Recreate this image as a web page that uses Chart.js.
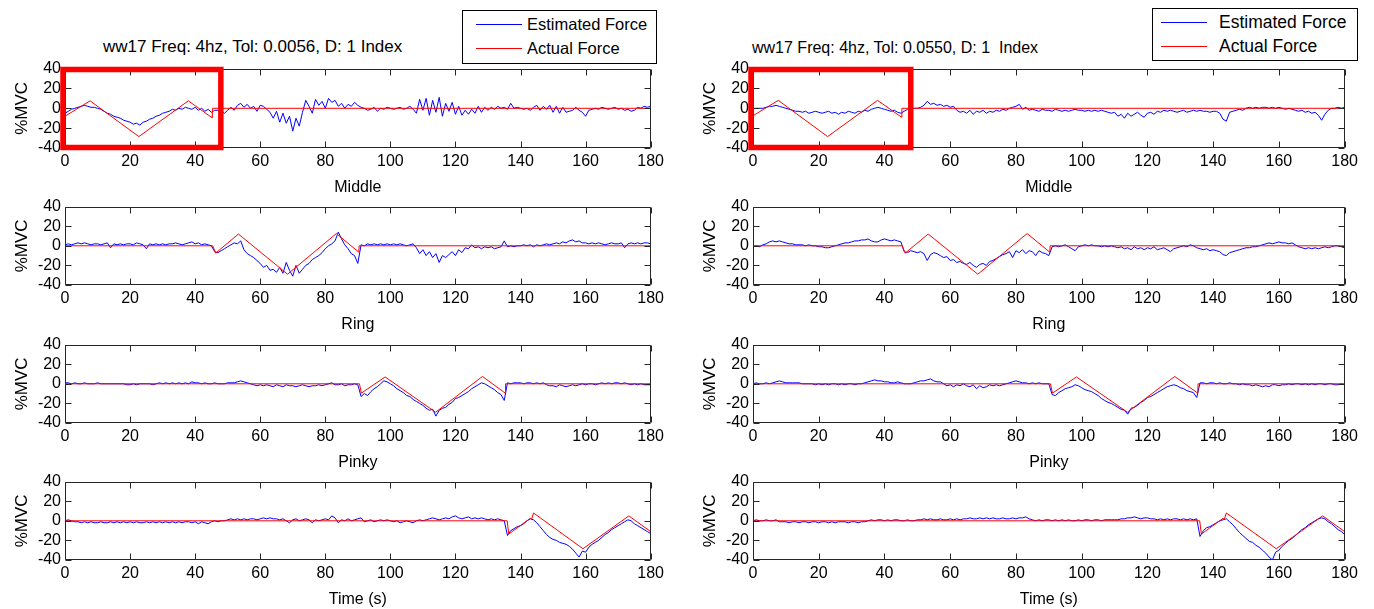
<!DOCTYPE html>
<html>
<head>
<meta charset="utf-8">
<script src="https://cdn.jsdelivr.net/npm/chart.js@4.4.1/dist/chart.umd.min.js"></script>
<style>
  body { margin: 0; background: #fff; }
  #page { position: relative; width: 1374px; height: 609px; background: #fff; overflow: hidden;
          font-family: "Liberation Sans", Arial, Helvetica, sans-serif; color: #000; }
  canvas { position: absolute; }
  .title { position: absolute; white-space: pre; line-height: 20px; }
  .legend { position: absolute; border: 1px solid #000; background: #fff; }
  .legend .row { position: absolute; line-height: 20px; white-space: pre; }
  .legend .swatch { position: absolute; height: 0; border-top: 1px solid; }
</style>
</head>
<body>
<div id="page">
  <div class="title" style="left:103px; top:37px; font-size:17px;">ww17 Freq: 4hz, Tol: 0.0056, D: 1 Index</div>
  <div class="title" style="left:752px; top:38px; font-size:16px;">ww17 Freq: 4hz, Tol: 0.0550, D: 1  Index</div>

  <div class="legend" style="left:462px; top:10px; width:193px; height:52px; font-size:16.5px;">
    <div class="swatch" style="left:13px; top:13px; width:46px; border-color:#0000ff;"></div>
    <div class="row" style="left:64px; top:3px;">Estimated Force</div>
    <div class="swatch" style="left:13px; top:37px; width:46px; border-color:#ff0000;"></div>
    <div class="row" style="left:64px; top:27px;">Actual Force</div>
  </div>
  <div class="legend" style="left:1152px; top:8px; width:204px; height:51px; font-size:17.5px;">
    <div class="swatch" style="left:8px; top:13px; width:46px; border-color:#0000ff;"></div>
    <div class="row" style="left:66px; top:3px;">Estimated Force</div>
    <div class="swatch" style="left:8px; top:37px; width:46px; border-color:#ff0000;"></div>
    <div class="row" style="left:66px; top:27px;">Actual Force</div>
  </div>
</div>

<script>
// ---- tick labels / axis ranges ----
const xTicks = [0, 20, 40, 60, 80, 100, 120, 140, 160, 180];
const yTicks = [-40, -20, 0, 20, 40];
const xLabels = ['Middle', 'Ring', 'Pinky', 'Time (s)'];
const yLabel = '%MVC';

// ---- estimated force, one value per second (0..180 s) ----
// left column (Tol 0.0056)
const estIndexL = [
  -5,-3,-1,0,1,2,3,2,1,1,
  0,-1,-3,-5,-6,-8,-9,-10,-12,-13,
  -14,-16,-15,-17,-14,-13,-11,-10,-8,-7,
  -5,-4,-3,-1,-2,0,-1,1,0,-1,
  1,-2,0,-3,-1,-4,-2,-2,-3,-5,
  -2,1,-2,3,5,1,4,0,2,-3,
  3,2,-1,-4,-10,-3,-14,-5,-15,-8,
  -23,-10,-18,-4,8,2,-5,9,3,7,
  0,10,6,8,2,5,0,4,2,6,
  3,1,0,-2,-1,1,-3,0,-1,1,
  0,-1,0,1,-1,0,2,-1,-5,9,
  -2,10,-7,8,-4,11,-8,5,-3,6,
  -6,2,-7,-2,-6,-1,-5,2,-4,1,
  -2,1,-1,2,0,1,-1,5,0,1,
  0,-1,0,-2,1,3,-2,2,-1,3,
  -4,2,-5,1,-4,-3,-2,1,-2,-4,
  -8,-2,-1,0,-1,1,0,-1,0,1,
  -1,0,-2,-1,-3,-2,1,0,2,1,
  2
];
const estRingL = [
  1,2,1,2,3,2,3,2,1,2,
  2,1,2,3,-2,2,1,2,1,2,
  2,1,3,2,1,-3,2,1,2,1,
  2,1,2,2,3,2,1,2,3,4,
  2,3,1,2,1,0,-6,-7,-5,-3,
  -1,1,3,2,5,-4,-8,-10,-12,-15,
  -18,-22,-20,-25,-24,-27,-22,-28,-17,-25,
  -31,-20,-28,-24,-20,-18,-14,-12,-10,-7,
  -3,0,2,5,14,7,1,-3,-8,-10,
  -18,1,0,2,1,2,1,2,1,2,
  1,2,1,2,1,0,1,2,-2,-8,
  -4,-10,-6,-12,-8,-17,-10,-12,-9,-6,
  -10,-4,-7,-2,-3,1,-2,-1,-3,-1,
  -2,-1,-3,-2,-1,5,-1,0,-1,0,
  0,1,0,1,-1,1,0,1,2,1,
  2,3,2,4,3,5,6,4,5,3,
  3,2,3,2,3,2,1,2,3,2,
  2,3,-2,2,3,2,3,2,3,3,
  2
];
const estPinkyL = [
  1,1,0,1,0,0,1,0,0,0,
  1,0,0,0,0,0,0,0,0,-1,
  -1,0,-1,0,0,0,0,-1,0,1,
  0,1,0,1,0,1,0,1,0,2,
  1,1,0,1,0,0,1,0,0,0,
  1,1,1,2,3,2,1,0,-1,-2,
  -1,-2,-1,-2,-3,-1,-2,-3,-1,-2,
  -2,-3,-2,-1,-2,-3,-2,-2,-1,-2,
  -1,0,1,-1,-1,0,-2,-1,-1,0,
  -1,-13,-10,-12,-8,-5,-3,0,3,2,
  0,-2,-5,-7,-9,-12,-13,-16,-18,-20,
  -22,-25,-27,-26,-33,-27,-25,-24,-21,-19,
  -15,-14,-12,-10,-8,-5,-3,-1,1,0,
  -2,-4,-6,-9,-11,-17,1,0,1,1,
  1,0,1,1,0,1,0,1,-1,-2,
  -2,-3,-1,-2,-3,-2,-1,-2,-1,0,
  -1,0,0,-1,0,1,0,1,0,1,
  1,0,1,0,-1,0,-1,0,-1,-1,
  -1
];
const estTimeL = [
  0,1,0,-1,-1,-2,-1,-2,-1,-2,
  -2,-1,-2,-2,-1,-2,-1,-2,-1,-2,
  -1,-2,-1,-2,-2,-1,-2,-1,-2,-1,
  -2,-1,-2,-1,-2,-1,-2,-1,-1,-2,
  -1,-3,-1,-2,-3,-1,0,-1,0,0,
  1,2,1,2,1,2,1,2,2,1,
  2,3,2,3,2,2,1,2,0,-2,
  1,2,0,1,2,1,-2,1,0,1,
  2,1,5,3,-2,1,0,2,0,1,
  2,3,-1,0,1,-1,0,1,0,1,
  0,-1,0,-2,-1,0,-1,-2,0,1,
  0,1,2,3,2,1,2,3,2,4,
  5,3,2,3,4,2,3,2,3,2,
  1,2,1,2,1,0,-15,-10,-8,-6,
  -5,-3,0,2,1,-2,-6,-10,-14,-17,
  -19,-20,-22,-23,-24,-26,-29,-33,-37,-31,
  -32,-27,-24,-22,-20,-17,-14,-12,-9,-7,
  -5,-3,-1,1,0,-3,-5,-7,-9,-11,
  -13
];
// right column (Tol 0.0550)
const estIndexR = [
  0,0,0,0,1,2,2,3,2,1,
  0,-1,-2,-3,-3,-4,-3,-5,-4,-3,
  -4,-5,-4,-3,-5,-4,-6,-4,-5,-3,
  -4,-5,-3,-4,-2,-3,-1,0,1,0,
  -1,-2,-3,-2,-4,-5,-3,-1,-1,0,
  0,1,3,7,4,5,3,4,2,3,
  1,2,-2,-4,-3,-5,-2,-6,-3,-4,
  -2,-5,-3,-4,-2,-3,-1,-2,0,1,
  2,4,-1,1,-2,-1,-2,-3,-1,-2,
  -2,-3,-1,-2,-3,-2,-3,-2,-1,-2,
  -2,-3,-2,-3,-2,-3,-2,-3,-4,-5,
  -4,-8,-6,-10,-5,-8,-6,-4,-7,-9,
  -5,-4,-6,-3,-4,-2,-3,-2,-3,-4,
  -3,-2,-4,-3,-2,-3,-2,-3,-3,-4,
  -3,-3,-5,-11,-13,-4,-3,-2,-1,-2,
  0,1,0,1,0,1,1,0,1,0,
  1,0,-1,0,-1,-2,-3,-2,-4,-3,
  -5,-4,-7,-12,-6,-2,0,0,1,0,
  1
];
const estRingR = [
  -1,0,-1,1,2,4,5,4,5,4,
  3,2,2,1,1,1,0,1,0,0,
  -1,-1,-2,-2,-1,0,1,2,3,3,
  4,5,5,6,6,7,5,4,4,6,
  7,6,5,6,5,4,-6,-7,-5,-6,
  -7,-6,-8,-15,-9,-7,-8,-10,-12,-11,
  -15,-14,-17,-16,-18,-19,-17,-20,-22,-19,
  -18,-20,-16,-15,-13,-11,-9,-8,-6,-12,
  -5,-7,-4,-8,-5,-6,-10,-5,-7,-8,
  -10,-1,0,-1,0,1,-1,-3,-5,-1,
  0,1,0,1,0,0,-1,0,-1,0,
  -1,-2,-1,-3,-2,-4,-1,-3,-2,-4,
  -2,-3,-1,-4,-3,-2,-4,-6,-3,-2,
  -1,0,-1,1,0,-2,-3,-4,-3,-5,
  -4,-5,-6,-9,-10,-7,-6,-5,-4,-3,
  -2,-2,-1,-1,0,1,2,3,2,3,
  4,3,3,2,3,1,-1,-2,-3,-2,
  -3,-2,-3,-2,-1,-2,-1,0,0,-1,
  -2
];
const estPinkyR = [
  0,1,0,0,1,0,1,2,3,2,
  1,1,1,1,1,0,0,0,0,-1,
  0,-1,0,-1,0,0,-1,0,-1,0,
  0,-1,0,0,1,2,3,4,3,3,
  2,2,1,1,2,1,0,0,0,1,
  2,3,3,4,5,3,2,2,0,-2,
  -1,-3,-1,-2,0,-2,-3,-1,-5,-2,
  -4,-3,-1,-2,-1,-2,-1,0,1,2,
  3,2,1,1,0,1,0,1,0,0,
  0,-11,-12,-9,-7,-5,-4,-3,-1,-2,
  -4,-6,-7,-8,-10,-12,-15,-17,-19,-20,
  -22,-24,-26,-27,-31,-25,-24,-22,-19,-17,
  -14,-13,-11,-9,-7,-5,-3,-2,-1,-2,
  -4,-5,-7,-8,-9,-14,1,1,0,1,
  1,0,1,0,0,1,0,0,-1,0,
  -1,-1,-2,-1,-2,-3,-2,-3,-1,-1,
  -2,-1,-1,0,-1,0,0,-1,0,-1,
  0,-1,0,0,-1,0,0,-1,-1,0,
  -1
];
const estTimeR = [
  0,1,0,0,1,0,0,1,-1,-1,
  -1,-2,-1,-1,-2,-1,-1,-2,-1,-1,
  -2,-1,-1,-2,-1,-2,-1,-1,-1,-2,
  -1,-1,-2,-1,-1,0,1,0,1,1,
  0,1,0,1,1,0,0,1,0,0,
  1,1,2,1,2,1,1,2,1,1,
  2,1,2,1,2,2,3,2,2,3,
  2,3,2,3,2,2,3,2,2,3,
  2,3,3,4,2,1,0,1,0,1,
  1,0,1,0,1,0,1,0,0,1,
  0,1,1,0,1,1,0,1,1,1,
  1,1,2,2,3,3,4,3,2,3,
  3,2,2,1,2,1,2,1,2,2,
  1,2,1,2,1,2,-16,-10,-7,-6,
  -4,-2,0,1,2,-1,-4,-8,-12,-15,
  -18,-21,-22,-25,-27,-30,-33,-37,-40,-32,
  -30,-26,-23,-20,-18,-15,-12,-9,-7,-4,
  -2,0,2,3,2,-1,-3,-6,-9,-11,
  -14
];

// ---- actual force: vertices of the target trace (time s, %MVC) ----
const actIndexT = [0, 7.7, 22.7, 37.9, 45.2, 45.3, 180];
const actIndexLV = [-8, 7.5, -28.5, 7.5, -9.5, 0, 0];
const actIndexRV = [-7.5, 8, -28.5, 8, -9, 0, 0];
const actRingT = [0, 45.4, 46.3, 53.3, 68.4, 83.4, 90.3, 90.4, 180];
const actRingV = [0, 0, -7.5, 12, -29, 12.5, -6.5, 0, 0];
const actPinkyT = [0, 90.5, 91.1, 98.4, 113.9, 128.3, 135.3, 135.4, 180];
const actPinkyV = [0, 0, -9.5, 7, -29, 7.5, -9.5, 0, 0];
const actTimeT = [0, 135.9, 136.4, 143, 143.4, 144, 159.2, 173.3, 180];
const actTimeV = [0, 0, -13.5, 2.5, 1.5, 8, -28.5, 5, -11];

// ---- panel layout ----
const colLeft = [65, 753];
const colWidth = [588, 594];
const rowTop = [67, 205, 343, 480];
const rowHeight = [81, 80, 80, 80];

const panels = [
  { col: 0, row: 0, est: estIndexL, actT: actIndexT, actV: actIndexLV, highlight: [0, 47.9] },
  { col: 0, row: 1, est: estRingL,  actT: actRingT,  actV: actRingV },
  { col: 0, row: 2, est: estPinkyL, actT: actPinkyT, actV: actPinkyV },
  { col: 0, row: 3, est: estTimeL,  actT: actTimeT,  actV: actTimeV },
  { col: 1, row: 0, est: estIndexR, actT: actIndexT, actV: actIndexRV, highlight: [0, 48] },
  { col: 1, row: 1, est: estRingR,  actT: actRingT,  actV: actRingV },
  { col: 1, row: 2, est: estPinkyR, actT: actPinkyT, actV: actPinkyV },
  { col: 1, row: 3, est: estTimeR,  actT: actTimeT,  actV: actTimeV }
];

const FONT = "'Liberation Sans', Arial, Helvetica, sans-serif";
const PAD_L = 65, PAD_T = 12, PAD_R = 15, PAD_B = 52;

// MATLAB style box with inward ticks, plus the red highlight frame
const matlabAxes = {
  id: 'matlabAxes',
  afterDraw(chart, args, opts) {
    const { ctx, chartArea: a, scales: { x, y } } = chart;
    const L = Math.round(a.left) + 0.5, R = Math.round(a.right) - 0.5;
    const T = Math.round(a.top) + 0.5, B = Math.round(a.bottom) - 0.5;
    ctx.save();
    ctx.strokeStyle = '#262626';
    ctx.lineWidth = 1;
    ctx.beginPath();
    ctx.rect(L, T, R - L, B - T);
    x.ticks.forEach(t => {
      const px = Math.round(x.getPixelForValue(t.value)) + 0.5;
      ctx.moveTo(px, B); ctx.lineTo(px, B - 6);
      ctx.moveTo(px, T); ctx.lineTo(px, T + 6);
    });
    y.ticks.forEach(t => {
      const py = Math.round(y.getPixelForValue(t.value)) + 0.5;
      ctx.moveTo(L, py); ctx.lineTo(L + 6, py);
      ctx.moveTo(R, py); ctx.lineTo(R - 6, py);
    });
    ctx.stroke();
    if (opts.highlight) {
      const x0 = x.getPixelForValue(opts.highlight[0]) - 2;
      const x1 = x.getPixelForValue(opts.highlight[1]);
      ctx.strokeStyle = '#ff0000';
      ctx.lineWidth = 5.5;
      ctx.strokeRect(x0, T, x1 - x0, B - T);
    }
    ctx.restore();
  }
};

const page = document.getElementById('page');

panels.forEach(p => {
  const plotW = colWidth[p.col], plotH = rowHeight[p.row];
  const canvas = document.createElement('canvas');
  canvas.width = plotW + PAD_L + PAD_R;
  canvas.height = plotH + PAD_T + PAD_B;
  canvas.style.left = (colLeft[p.col] - PAD_L) + 'px';
  canvas.style.top = (rowTop[p.row] - PAD_T) + 'px';
  page.appendChild(canvas);

  new Chart(canvas, {
    type: 'line',
    data: {
      datasets: [{
        label: 'Estimated Force',
        data: p.est.map((v, i) => ({ x: i, y: v })),
        borderColor: '#0000ff',
        borderWidth: 1,
        pointRadius: 0,
        order: 2
      }, {
        label: 'Actual Force',
        data: p.actT.map((t, i) => ({ x: t, y: p.actV[i] })),
        borderColor: '#ff0000',
        borderWidth: 1,
        pointRadius: 0,
        order: 1
      }]
    },
    options: {
      responsive: false,
      animation: false,
      events: [],
      layout: { padding: { top: PAD_T, right: PAD_R, left: 0, bottom: 0 } },
      plugins: {
        legend: { display: false },
        tooltip: { enabled: false },
        matlabAxes: { highlight: p.highlight || null }
      },
      scales: {
        x: {
          type: 'linear', min: 0, max: 180,
          afterBuildTicks: s => { s.ticks = xTicks.map(v => ({ value: v })); },
          afterFit: s => { s.height = PAD_B; },
          grid: { display: false, drawTicks: false },
          border: { display: false },
          ticks: { color: '#000', padding: 4, maxRotation: 0, autoSkip: false, font: { family: FONT, size: 16 } },
          title: { display: true, text: xLabels[p.row], color: '#000', padding: { top: 0, bottom: 3 }, font: { family: FONT, size: 16 } }
        },
        y: {
          min: -40, max: 40,
          afterBuildTicks: s => { s.ticks = yTicks.map(v => ({ value: v })); },
          afterFit: s => { s.width = PAD_L; },
          grid: { display: false, drawTicks: false },
          border: { display: false },
          ticks: { color: '#000', padding: 4, autoSkip: false, font: { family: FONT, size: 16 } },
          title: { display: true, text: yLabel, color: '#000', padding: { top: 12, bottom: 0 }, font: { family: FONT, size: 17 } }
        }
      }
    },
    plugins: [matlabAxes]
  });
});
</script>
</body>
</html>
